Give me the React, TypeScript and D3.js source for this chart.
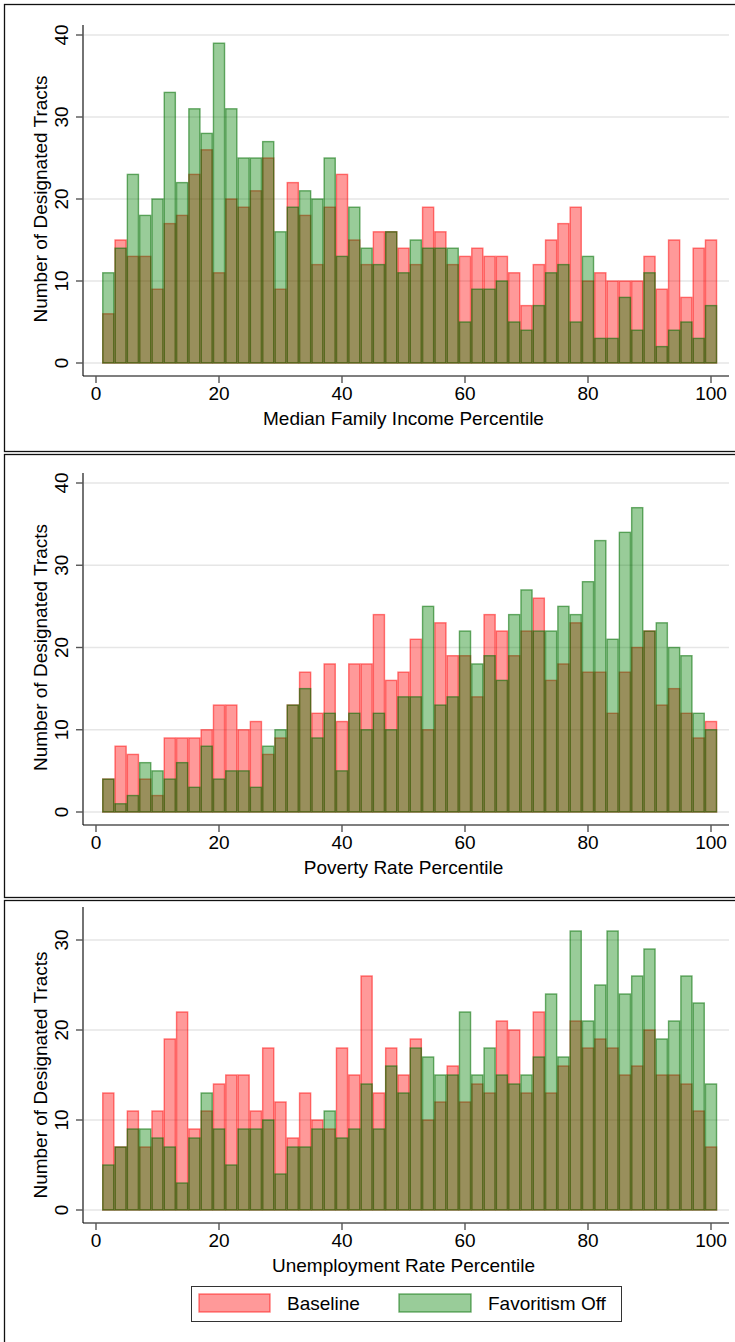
import React from 'react';
import * as d3 from 'd3';

// Bin left edges (percentile bins of width 2)
const binLeft = [1,3,5,7,9,11,13,15,17,19,21,23,25,27,29,31,33,35,37,39,41,43,45,47,49,51,53,55,57,59,61,63,65,67,69,71,73,75,77,79,81,83,85,87,89,91,93,95,97,99];
const binWidth = 2;

const xTicks = [0, 20, 40, 60, 80, 100];

// Panel 1: Median Family Income Percentile
const incomeBaseline = [6,15,13,13,9,17,18,23,26,11,20,19,21,25,9,22,18,12,19,23,15,12,16,16,14,12,19,16,12,13,14,13,13,11,7,12,15,17,19,10,11,10,10,10,13,9,15,8,14,15];
const incomeFavOff = [11,14,23,18,20,33,22,31,28,39,31,25,25,27,16,19,21,20,25,13,19,14,12,16,11,15,14,14,14,5,9,9,10,5,4,7,11,12,5,13,3,3,8,4,11,2,4,5,3,7];
const incomeYTicks = [0, 10, 20, 30, 40];

// Panel 2: Poverty Rate Percentile
const povertyBaseline = [4,8,7,4,2,9,9,9,10,13,13,10,11,7,9,13,17,12,18,11,18,18,24,16,17,21,10,23,19,19,14,24,22,19,22,26,16,18,23,17,17,12,17,20,22,13,15,12,9,11];
const povertyFavOff = [4,1,2,6,5,4,6,3,8,4,5,5,3,8,10,13,15,9,12,5,12,10,12,10,14,14,25,13,14,22,18,19,16,24,27,22,22,25,24,28,33,21,34,37,22,23,20,19,12,10];
const povertyYTicks = [0, 10, 20, 30, 40];

// Panel 3: Unemployment Rate Percentile
const unempBaseline = [13,7,11,7,11,19,22,9,11,14,15,15,11,18,12,8,13,10,9,18,15,26,13,18,15,19,10,12,16,12,14,13,21,20,13,22,13,16,21,18,19,18,15,16,20,15,15,14,11,7];
const unempFavOff = [5,7,9,9,8,7,3,8,13,9,5,9,9,10,4,7,7,9,11,8,9,14,9,16,13,18,17,15,15,22,15,18,15,14,15,17,24,17,31,21,25,31,24,26,29,19,21,26,23,14];
const unempYTicks = [0, 10, 20, 30];

const xTitles = ['Median Family Income Percentile', 'Poverty Rate Percentile', 'Unemployment Rate Percentile'];
const yTitle = 'Number of Designated Tracts';
const legendLabels = ['Baseline', 'Favoritism Off'];

const panelData = [
  { baseline: incomeBaseline, favOff: incomeFavOff, yTicks: incomeYTicks, xTitle: xTitles[0] },
  { baseline: povertyBaseline, favOff: povertyFavOff, yTicks: povertyYTicks, xTitle: xTitles[1] },
  { baseline: unempBaseline, favOff: unempFavOff, yTicks: unempYTicks, xTitle: xTitles[2] },
];

// Layout (pixels)
const W = 735, H = 1342;
const FONT = '"Liberation Sans", Arial, Helvetica, sans-serif';
const FS = 19;
const layouts = [
  { boxTop: 4, boxBottom: 451, axisTop: 25, y0: 363, yTopPx: 35, yTopVal: 40 },
  { boxTop: 454, boxBottom: 897, axisTop: 473, y0: 812, yTopPx: 483, yTopVal: 40 },
  { boxTop: 900, boxBottom: 1360, axisTop: 907, y0: 1210, yTopPx: 940, yTopVal: 30 },
];
const AXIS_X = 83;
const PLOT_RIGHT = 729;

const RED_FILL = 'rgba(255,0,0,0.4)';
const RED_STROKE = 'rgba(255,0,0,0.5)';
const GREEN_FILL = 'rgba(0,128,0,0.4)';
const GREEN_STROKE = 'rgba(0,110,0,0.55)';

const x = d3.scaleLinear().domain([0, 100]).range([96, 711]);

function Panel({ d, l }: { d: typeof panelData[0]; l: typeof layouts[0] }) {
  const y = d3.scaleLinear().domain([0, l.yTopVal]).range([l.y0, l.yTopPx]);
  const xAxisY = l.y0 + 13;
  const bars = (vals: number[], fill: string, stroke: string) =>
    vals.map((v, i) => {
      const x0 = x(binLeft[i]);
      const x1 = x(binLeft[i] + binWidth);
      const yt = y(v);
      return (
        <rect key={i} x={x0 + 0.6} y={yt} width={x1 - x0 - 1.2} height={Math.max(0, y(0) - yt)}
          fill={fill} stroke={stroke} strokeWidth={1.4} />
      );
    });
  return (
    <g>
      <rect x={4.5} y={l.boxTop + 0.5} width={W + 20} height={l.boxBottom - l.boxTop} fill="white" stroke="#111" strokeWidth={1.3} />
      {d.yTicks.map((t) => (
        <line key={'g' + t} x1={AXIS_X + 1} x2={PLOT_RIGHT} y1={y(t)} y2={y(t)} stroke="#e6e6e6" strokeWidth={1.6} />
      ))}
      {bars(d.baseline, RED_FILL, RED_STROKE)}
      {bars(d.favOff, GREEN_FILL, GREEN_STROKE)}
      {/* y axis */}
      <line x1={AXIS_X} x2={AXIS_X} y1={l.axisTop} y2={xAxisY} stroke="#000" strokeWidth={1.1} />
      {d.yTicks.map((t) => (
        <g key={'y' + t}>
          <line x1={AXIS_X - 7} x2={AXIS_X} y1={y(t)} y2={y(t)} stroke="#555" strokeWidth={1.4} />
          <text transform={`translate(${68},${y(t)}) rotate(-90)`} textAnchor="middle" fontFamily={FONT} fontSize={FS} fill="#000">{t}</text>
        </g>
      ))}
      <text transform={`translate(${47},${(l.y0 + l.yTopPx) / 2}) rotate(-90)`} textAnchor="middle" fontFamily={FONT} fontSize={FS} fill="#000">{yTitle}</text>
      {/* x axis */}
      <line x1={AXIS_X} x2={PLOT_RIGHT} y1={xAxisY} y2={xAxisY} stroke="#000" strokeWidth={1.1} />
      {xTicks.map((t) => (
        <g key={'x' + t}>
          <line x1={x(t)} x2={x(t)} y1={xAxisY} y2={xAxisY + 7} stroke="#555" strokeWidth={1.4} />
          <text x={x(t)} y={xAxisY + 24} textAnchor="middle" fontFamily={FONT} fontSize={FS} fill="#000">{t}</text>
        </g>
      ))}
      <text x={(x(0) + x(100)) / 2} y={l.y0 + 62} textAnchor="middle" fontFamily={FONT} fontSize={FS} fill="#000">{d.xTitle}</text>
    </g>
  );
}

export default function App() {
  return (
    <svg width={W} height={H} style={{ position: 'absolute', left: 0, top: 0, background: 'white' }}>
      <rect x={0} y={0} width={W} height={H} fill="white" />
      {panelData.map((d, i) => <Panel key={i} d={d} l={layouts[i]} />)}
      {/* legend */}
      <g>
        <rect x={191.5} y={1286.5} width={430} height={35} fill="white" stroke="#333" strokeWidth={1} />
        <rect x={199} y={1294} width={71} height={18} fill={RED_FILL} stroke={RED_STROKE} strokeWidth={1.4} />
        <text x={287} y={1310} fontFamily={FONT} fontSize={FS} fill="#000">{legendLabels[0]}</text>
        <rect x={399} y={1294} width={72} height={18} fill={GREEN_FILL} stroke={GREEN_STROKE} strokeWidth={1.4} />
        <text x={488} y={1310} fontFamily={FONT} fontSize={FS} fill="#000">{legendLabels[1]}</text>
      </g>
    </svg>
  );
}
